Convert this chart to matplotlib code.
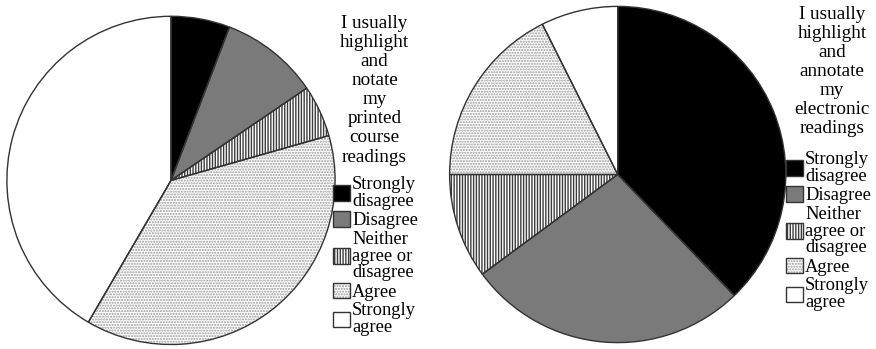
import matplotlib
matplotlib.use("Agg")
import matplotlib.pyplot as plt
from matplotlib.patches import Patch
from matplotlib.legend_handler import HandlerTuple

plt.rcParams['font.family'] = ['Liberation Serif', 'DejaVu Serif']
plt.rcParams['hatch.linewidth'] = 1.0

categories = ["Strongly\ndisagree", "Disagree", "Neither\nagree or\ndisagree",
              "Agree", "Strongly\nagree"]
printed_pct = [5.8, 9.7, 5.1, 37.8, 41.6]
electronic_pct = [37.8, 27.1, 10.1, 17.6, 7.4]
printed_title = "I usually\nhighlight\nand\nnotate\nmy\nprinted\ncourse\nreadings"
electronic_title = "I usually\nhighlight\nand\nannotate\nmy\nelectronic\nreadings"

faces = ["#000000", "#7a7a7a", "#ffffff", "#ffffff", "#ffffff"]
hatches = [None, None, "||||||", "......", None]
hatch_cols = ["#000000", "#7a7a7a", "#3c3c3c", "#9a9a9a", "#ffffff"]
outline = "#333333"

W, H = 876, 349
fig = plt.figure(figsize=(W / 100, H / 100), dpi=100)


def pie_axes(cx, cy, r):
    return fig.add_axes([(cx - r) / W, (H - cy - r) / H, 2 * r / W, 2 * r / H])


def draw_pie(ax, vals):
    wedges, _ = ax.pie(vals, colors=faces, startangle=90, counterclock=False,
                       radius=1, wedgeprops=dict(linewidth=0))
    for w, h, hc in zip(wedges, hatches, hatch_cols):
        w.set_edgecolor(hc)
        if h:
            w.set_hatch(h)
        w.set_linewidth(0)
    # slice borders drawn on top of the fills
    ax.pie(vals, startangle=90, counterclock=False, radius=1,
           wedgeprops=dict(fill=False, edgecolor=outline, linewidth=1.0))
    ax.set_xlim(-1.003, 1.003)
    ax.set_ylim(-1.003, 1.003)
    ax.set_aspect("equal")
    ax.axis("off")


def legend_handles():
    hs = []
    for f, h, hc in zip(faces, hatches, hatch_cols):
        fill = Patch(facecolor=f, edgecolor=hc, hatch=h, linewidth=0)
        border = Patch(facecolor="none", edgecolor=outline, linewidth=1.0)
        hs.append((fill, border))
    return hs


def add_legend(title, tx, ty, lx, ly):
    fig.text(tx / W, 1 - ty / H, title, ha="center", va="top",
             multialignment="center", fontsize=13.8, linespacing=1.16)
    leg = fig.legend(legend_handles(), categories, loc="upper left",
                     bbox_to_anchor=(lx / W, 1 - ly / H), frameon=False,
                     fontsize=13.3, borderpad=0, borderaxespad=0,
                     handlelength=0.92, handleheight=0.92, handletextpad=0.12,
                     labelspacing=0.08,
                     handler_map={tuple: HandlerTuple(ndivide=1)})
    for t in leg.get_texts():
        t.set_linespacing(0.98)
    return leg


ax1 = pie_axes(171, 180.4, 164.6)
draw_pie(ax1, printed_pct)
ax2 = pie_axes(617.7, 174.5, 168.6)
draw_pie(ax2, electronic_pct)

add_legend(printed_title, 374.5, 15, 333, 176)
add_legend(electronic_title, 832, 6, 786, 151)

fig.savefig("out.png", dpi=100)
